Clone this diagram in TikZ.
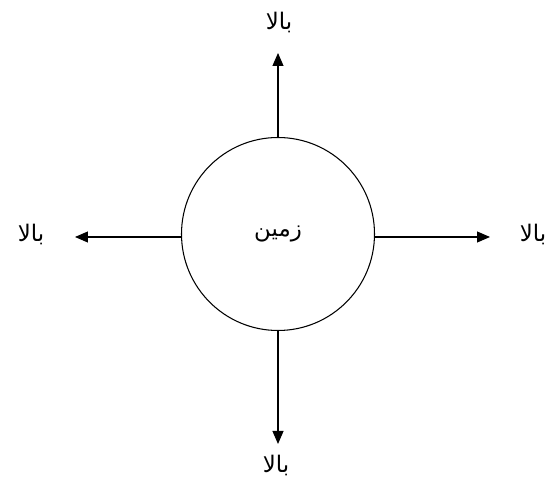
\documentclass[tikz,border=0pt]{standalone}
\usepackage{fontspec}
\newfontfamily\arabicfont[Script=Arabic]{DejaVu Sans}
\TeXXeTstate=1
\usetikzlibrary{arrows.meta}

\begin{document}
\begin{tikzpicture}[
    x=0.02cm, y=-0.02cm,
    planet/.style={circle, draw=black, semithick, minimum size=193*0.02cm, inner sep=0pt},
    dirlabel/.style={font=\arabicfont\fontsize{13}{15}\selectfont},
    >={Triangle[length=0.26cm, width=0.22cm]}
]
\useasboundingbox (0,0) rectangle (552,482);

\node[planet, dirlabel] (earth) at (278,234) {\beginR زمین\endR};

\coordinate (tipN) at (278,53);
\coordinate (tipS) at (278,444);
\coordinate (tipW) at (75,237);
\coordinate (tipE) at (490,237);

\node[dirlabel] (up) at (279,23) {\beginR بالا\endR};
\node[dirlabel] (down) at (276,466) {\beginR بالا\endR};
\node[dirlabel] (left) at (31,235) {\beginR بالا\endR};
\node[dirlabel] (right) at (533,235) {\beginR بالا\endR};

\draw[semithick, ->] (earth.north) -- (tipN);
\draw[semithick, ->] (earth.south) -- (tipS);
\draw[semithick, ->] (earth.west |- tipW) -- (tipW);
\draw[semithick, ->] (earth.east |- tipE) -- (tipE);

\end{tikzpicture}
\end{document}
